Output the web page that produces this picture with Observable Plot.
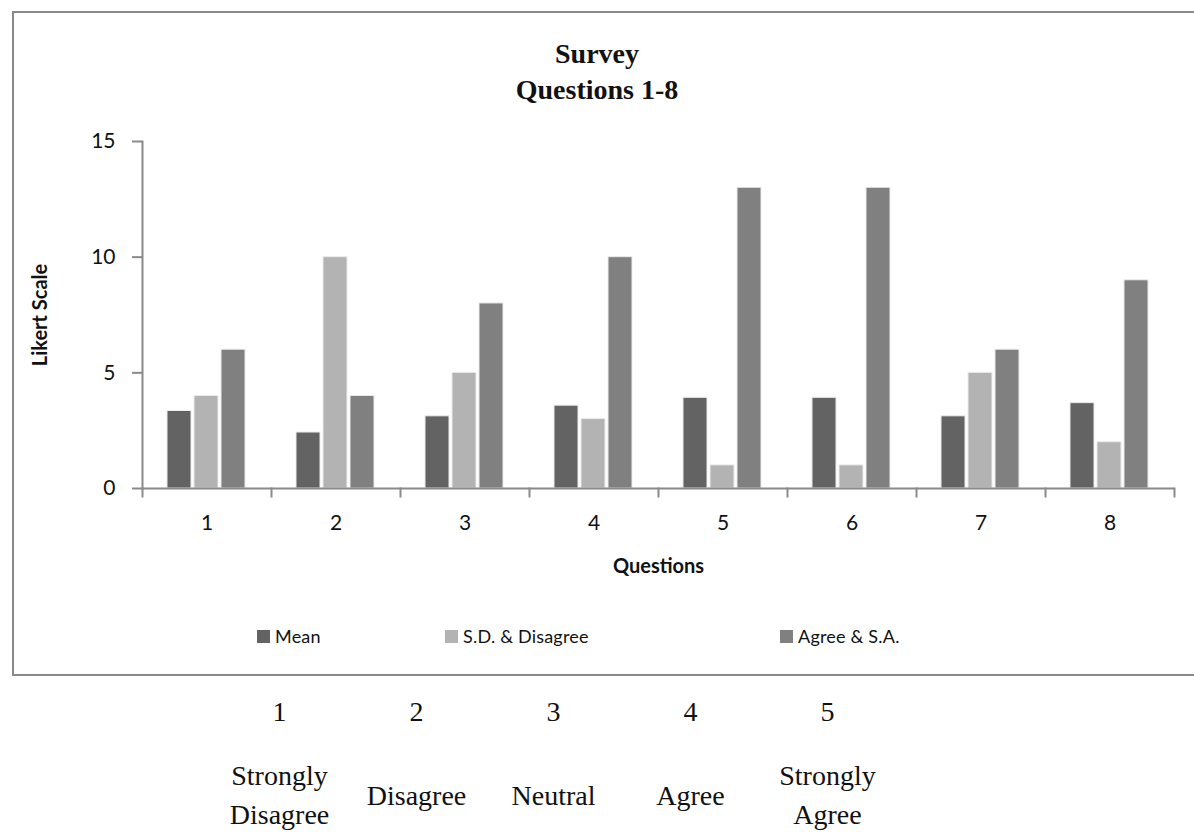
<!DOCTYPE html>
<html>
<head>
<meta charset="utf-8">
<script src="https://cdn.jsdelivr.net/npm/d3@7"></script>
<script src="https://cdn.jsdelivr.net/npm/@observablehq/plot@0.6"></script>
<style>
  html, body { margin: 0; padding: 0; background: #fff; }
  #page { position: relative; width: 1194px; height: 838px; overflow: hidden; }
  #box { position: absolute; left: 12px; top: 11px; width: 1200px; height: 665px;
         border: 2.5px solid #8a8a8a; border-right: none; box-sizing: border-box; }
  #title { position: absolute; left: 0; top: 36px; width: 1194px; text-align: center;
           font-family: "Liberation Serif", "Times New Roman", serif; font-weight: bold;
           font-size: 28px; line-height: 36px; color: #111; }
  #chart { position: absolute; left: 0; top: 0; }
  #chart svg g[aria-label="y-axis tick label"],
  #chart svg g[aria-label="fx-axis tick label"] { font-size: 21px; }
  #chart svg g[aria-label="y-axis label"],
  #chart svg g[aria-label="fx-axis label"] { font-size: 20px; font-weight: bold; }
  #legend { position: absolute; left: 0; top: 624px; width: 1194px; height: 24px;
            font-family: Lato, "Open Sans", sans-serif; font-size: 18px; color: #111;
            letter-spacing: 0.2px; }
  #legend .item { position: absolute; top: 0; display: flex; align-items: center; gap: 5px;
                  white-space: nowrap; height: 24px; }
  #legend .item:nth-child(1) { left: 257px; }
  #legend .item:nth-child(2) { left: 445px; }
  #legend .item:nth-child(3) { left: 780px; }
  #legend .sw { width: 13px; height: 13px; display: inline-block; }
  #key { position: absolute; left: 211px; top: 689px; display: grid;
         grid-template-columns: repeat(5, 137px);
         font-family: "Liberation Serif", "Times New Roman", serif; font-size: 28px; color: #111; }
  #key .num { text-align: center; height: 46px; line-height: 46px; }
  #key .lab { text-align: center; height: 120px; display: flex; align-items: center;
              justify-content: center; line-height: 39px; }
</style>
</head>
<body>
<div id="page">
  <div id="box"></div>
  <div id="title">Survey<br>Questions 1-8</div>
  <div id="chart"></div>
  <div id="legend"></div>
  <div id="key"></div>
</div>
<script>
// ---- data ----
const questions = [1, 2, 3, 4, 5, 6, 7, 8];
const series = ["Mean", "S.D. & Disagree", "Agree & S.A."];
const meanValues = [3.35, 2.42, 3.12, 3.58, 3.92, 3.92, 3.12, 3.69];
const disagreeValues = [4, 10, 5, 3, 1, 1, 5, 2];
const agreeValues = [6, 4, 8, 10, 13, 13, 6, 9];
const seriesColors = ["#636363", "#b3b3b3", "#808080"];
const yTicks = [0, 5, 10, 15];
const likertNumbers = [1, 2, 3, 4, 5];
const likertLabels = ["Strongly<br>Disagree", "Disagree", "Neutral", "Agree", "Strongly<br>Agree"];

const seriesValues = [meanValues, disagreeValues, agreeValues];
const rows = questions.flatMap((q, i) =>
  series.map((s, j) => ({question: q, series: s, value: seriesValues[j][i]})));

const axisColor = "#8a8a8a";
const chart = Plot.plot({
  width: 1194,
  height: 600,
  marginLeft: 141,
  marginRight: 19,
  marginTop: 141,
  marginBottom: 112,
  style: {fontFamily: "Lato, 'Open Sans', sans-serif", color: "#111", background: "transparent"},
  fx: {domain: questions, paddingInner: 0, paddingOuter: 0, axis: null},
  x: {domain: series, paddingInner: 0.107, paddingOuter: 0.86, axis: null},
  y: {domain: [0, 15], ticks: yTicks, axis: null},
  color: {domain: series, range: seriesColors},
  marks: [
    Plot.barY(rows, {fx: "question", x: "series", y: "value", fill: "series",
      stroke: "#ececec", strokeWidth: 1}),
    Plot.ruleY([0], {stroke: axisColor, strokeWidth: 2}),
    Plot.frame({anchor: "left", facetAnchor: "left", stroke: axisColor, strokeWidth: 2}),
    Plot.frame({anchor: "left", stroke: axisColor, strokeWidth: 2, insetTop: 347, insetBottom: -8}),
    Plot.frame({anchor: "right", facetAnchor: "right", stroke: axisColor, strokeWidth: 2, insetTop: 347, insetBottom: -8}),
    Plot.axisY({ticks: yTicks, tickSize: 10, tickPadding: 17, stroke: axisColor, strokeWidth: 2,
      fontSize: 21, label: "Likert Scale", labelAnchor: "center", labelOffset: 110, labelArrow: "none",
      tickFormat: d => String(d)}),
    Plot.axisFx({anchor: "bottom", tickSize: 0, tickPadding: 27, fontSize: 21,
      label: "Questions", labelAnchor: "center", labelOffset: 84, labelArrow: "none"})
  ]
});
document.getElementById("chart").appendChild(chart);

// remove any label arrows
chart.querySelectorAll("[aria-label='y-axis label'] text, [aria-label='fx-axis label'] text").forEach(el => {
  el.textContent = el.textContent.replace(/[↑↓←→]/g, "").trim();
});

// legend
const legend = document.getElementById("legend");
series.forEach((s, i) => {
  const item = document.createElement("div");
  item.className = "item";
  item.innerHTML = `<span class="sw" style="background:${seriesColors[i]}"></span><span>${s}</span>`;
  legend.appendChild(item);
});

// Likert key
const key = document.getElementById("key");
likertNumbers.forEach(n => {
  const d = document.createElement("div"); d.className = "num"; d.textContent = n; key.appendChild(d);
});
likertLabels.forEach(t => {
  const d = document.createElement("div"); d.className = "lab"; d.innerHTML = `<span>${t}</span>`; key.appendChild(d);
});
</script>
</body>
</html>
